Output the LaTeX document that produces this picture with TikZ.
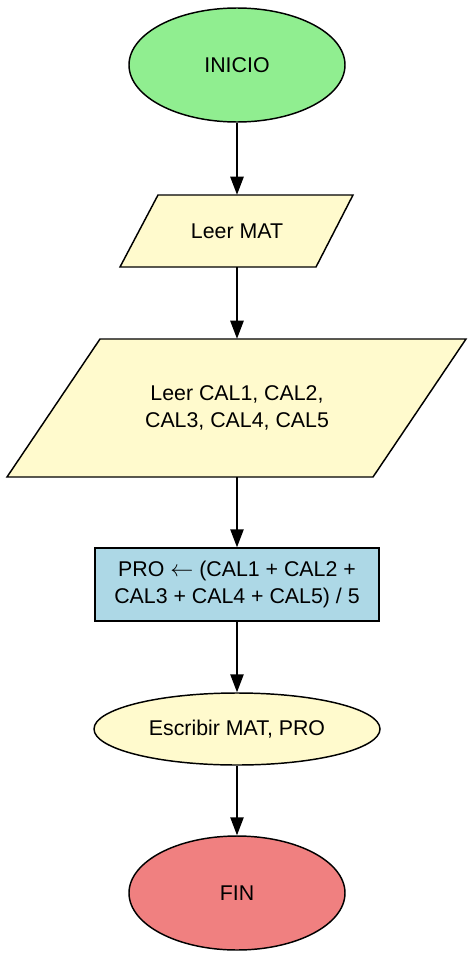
\documentclass[tikz,border=0pt]{standalone}
\usepackage{fontspec}
\setmainfont{Liberation Sans}
\usetikzlibrary{shapes.geometric,arrows.meta}
\definecolor{startgreen}{HTML}{90EE90}
\definecolor{iofill}{HTML}{FFFACD}
\definecolor{procfill}{HTML}{ADD8E6}
\definecolor{endred}{HTML}{F08080}
\begin{document}
\begin{tikzpicture}[x=0.75pt,y=-0.75pt,
  every node/.style={font=\fontsize{16}{20}\selectfont, align=center, inner sep=0pt},
  termnode/.style={ellipse, draw, line width=1.1pt, minimum width=162pt, minimum height=85.5pt},
  outnode/.style={ellipse, draw, line width=1.1pt, fill=iofill, minimum width=214.5pt, minimum height=54pt},
  procnode/.style={rectangle, draw, line width=1.1pt, fill=procfill, minimum width=213pt, minimum height=54.75pt},
  iotext/.style={rectangle, minimum width=20pt},
  iobox/.style={draw, line width=1.1pt, fill=iofill, line join=miter},
  flow/.style={draw, line width=1.1pt, -{Triangle[length=13.5pt,width=10pt]}}
]
\useasboundingbox (0,0) rectangle (475,960);
% parallelogram outlines
\path[iobox] (158,195) -- (353,195) -- (316,267) -- (120,267) -- cycle;
\path[iobox] (100,339) -- (466,339) -- (373,477) -- (7,477) -- cycle;

\node[termnode, fill=startgreen] (inicio) at (237,65) {INICIO};
\node[iotext, minimum height=54pt] (leermat) at (237,231) {Leer MAT};
\node[iotext, minimum height=103.5pt] (leercal) at (237,408) {Leer CAL1, CAL2,\\CAL3, CAL4, CAL5};
\node[procnode] (pro) at (237,584.5) {PRO $\leftarrow$ (CAL1 + CAL2 +\\CAL3 + CAL4 + CAL5) / 5};
\node[outnode] (escribir) at (237,729) {Escribir MAT, PRO};
\node[termnode, fill=endred] (fin) at (237,893) {FIN};

\draw[flow] (inicio.south) -- (leermat.north);
\draw[flow] (leermat.south) -- (leercal.north);
\draw[flow] (leercal.south) -- (pro.north);
\draw[flow] (pro.south) -- (escribir.north);
\draw[flow] (escribir.south) -- (fin.north);
\end{tikzpicture}
\end{document}
